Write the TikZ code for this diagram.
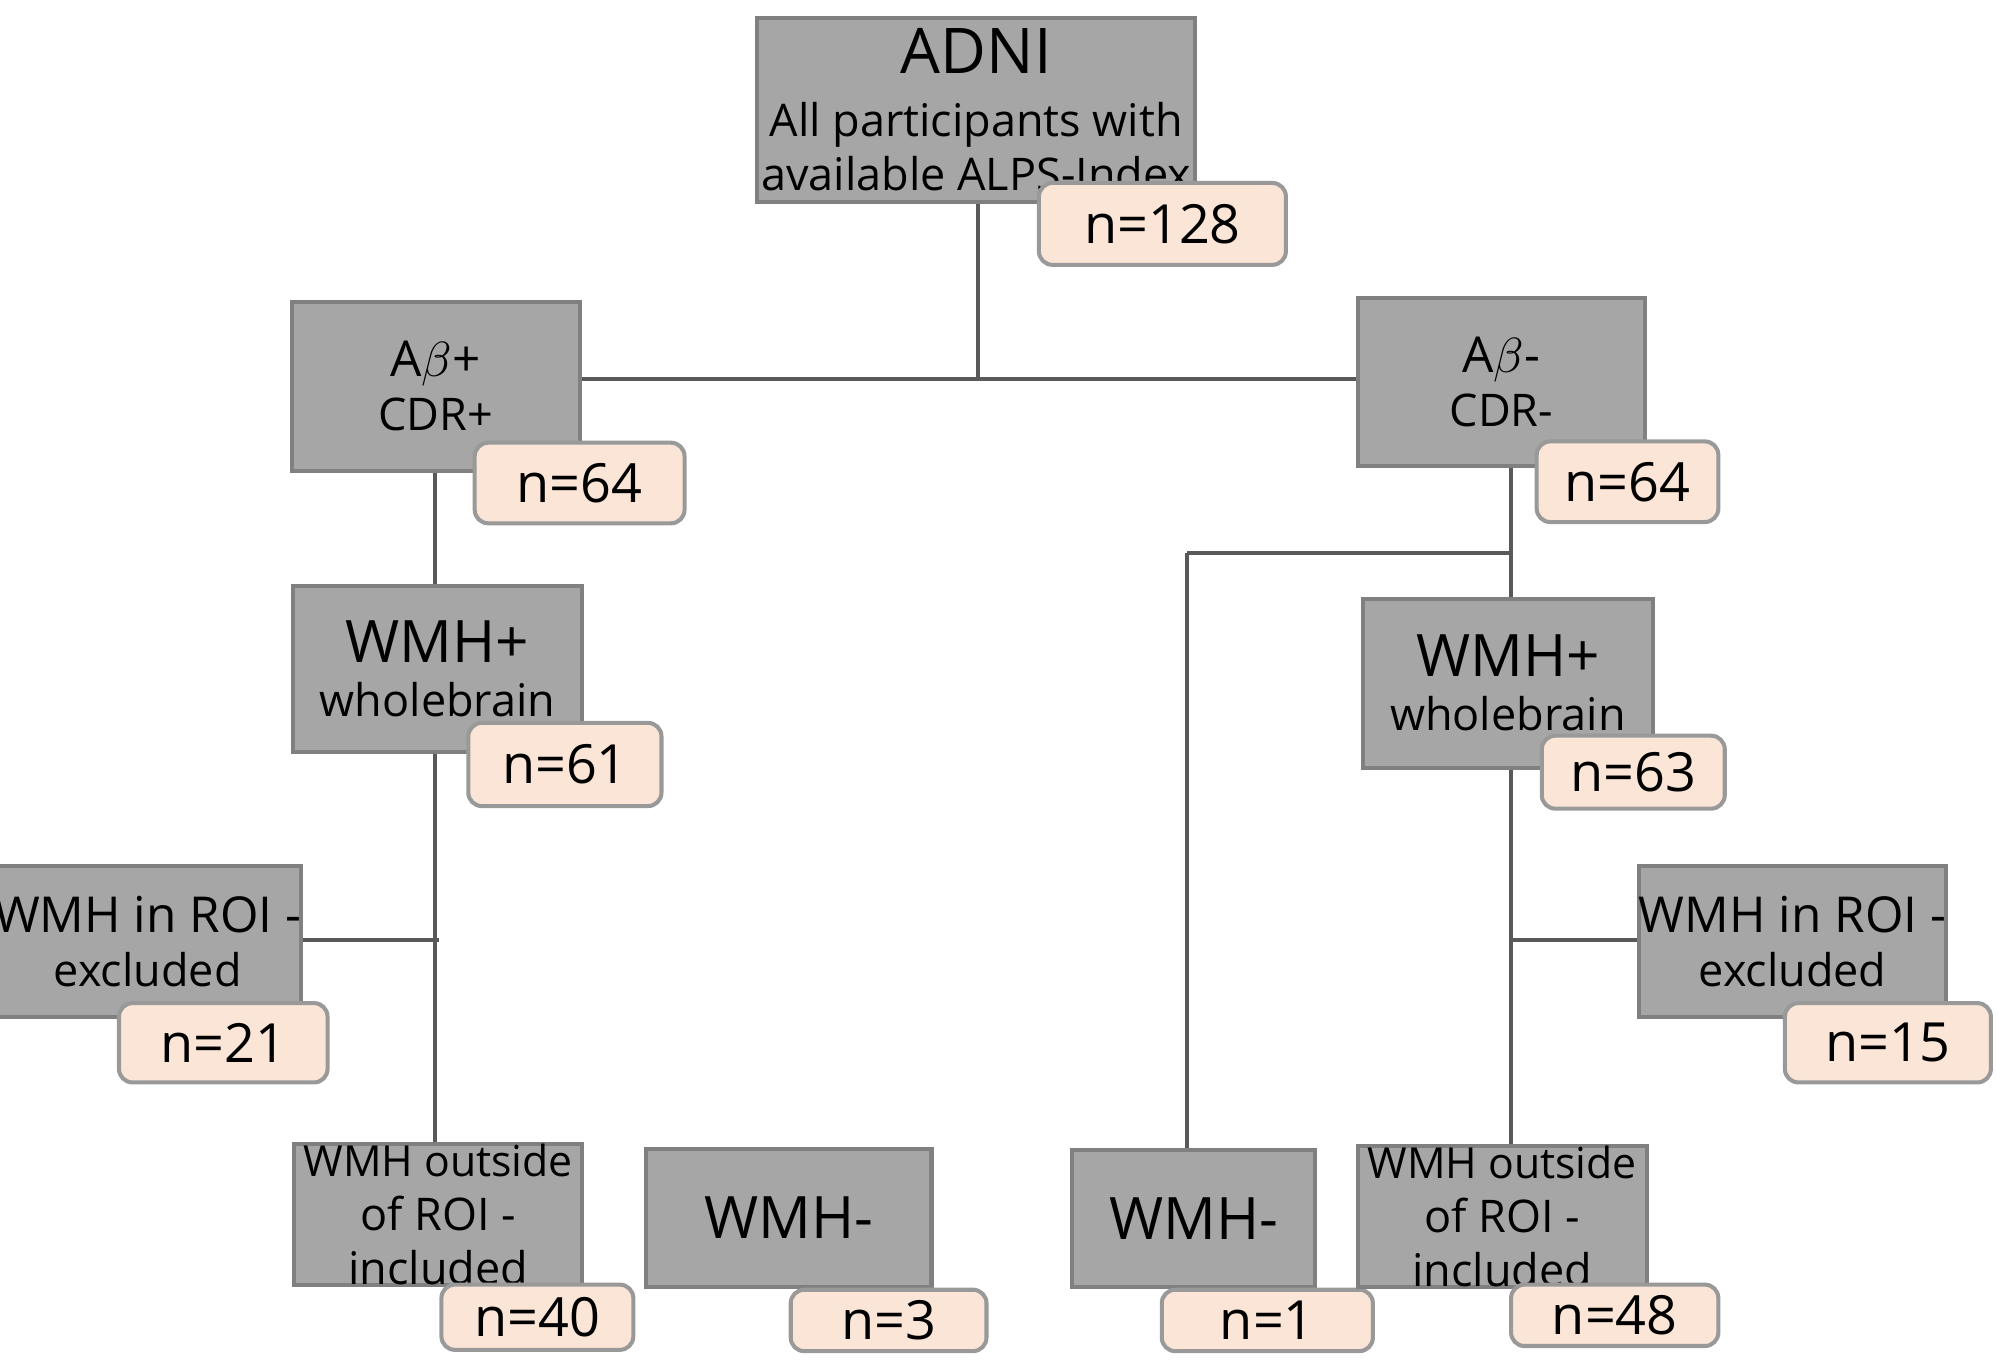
\documentclass[tikz,border=0pt]{standalone}
\usepackage{fontspec}
\setmainfont{Open Sans}
\definecolor{boxgray}{HTML}{A6A6A6}
\definecolor{boxedge}{HTML}{808080}
\definecolor{npeach}{HTML}{FBE5D6}
\tikzset{
  grp/.style={draw=boxedge, line width=0.9pt, fill=boxgray, align=center, inner sep=0pt},
  cnt/.style={draw=boxedge!80, line width=0.9pt, fill=npeach, rounded corners=3pt, inner sep=0pt, font=\fontsize{12}{14}\selectfont},
  link/.style={draw=black!65, line width=0.9pt}
}
% box from corner (x1,y1) to (x2,y2), in picture units
\newcommand{\gbox}[6]{\node[#1, minimum width={(#4-#2)*0.01cm}, minimum height={(#5-#3)*0.01cm}] (#6) at ({(#2+#4)/2},{(#3+#5)/2})}
\begin{document}
\begin{tikzpicture}[x=0.01cm, y=-0.01cm]
\useasboundingbox (0,0) rectangle (1560,1064);
% links
\draw[link] (764,158) -- (764,296);
\draw[link] (453,296) -- (1061,296);
\draw[link] (340,368) -- (340,895);
\draw[link] (225,735) -- (343,735);
\draw[link] (1181,364) -- (1181,897);
\draw[link] (928,432) -- (1181,432);
\draw[link] (928,432) -- (928,899);
\draw[link] (1181,735) -- (1291,735);
% groups
\gbox{grp}{592}{14}{934}{158}{adni} {\fontsize{14}{17}\selectfont ADNI\\[2pt]\fontsize{10}{13}\selectfont All participants with\\ available ALPS-Index};
\gbox{cnt}{812}{143}{1005}{207}{nadni} {n=128};
\gbox{grp}{228}{236}{453}{368}{apos} {\fontsize{11}{14}\selectfont A$\beta$+\\CDR+};
\gbox{cnt}{371}{346}{535}{409}{napos} {n=64};
\gbox{grp}{1061}{233}{1286}{364}{aneg} {\fontsize{11}{14}\selectfont A$\beta$-\\CDR-};
\gbox{cnt}{1201}{345}{1343}{408}{naneg} {n=64};
\gbox{grp}{229}{458}{455}{588}{wmhl} {\fontsize{13}{16}\selectfont WMH+\\wholebrain};
\gbox{cnt}{366}{565}{517}{630}{nwmhl} {n=61};
\gbox{grp}{1065}{468}{1292}{600}{wmhr} {\fontsize{13}{16}\selectfont WMH+\\wholebrain};
\gbox{cnt}{1205}{575}{1348}{632}{nwmhr} {n=63};
\gbox{grp}{6}{677}{225}{795}{roil} {\fontsize{11}{15}\selectfont WMH in ROI -\\excluded};
\gbox{cnt}{93}{784}{256}{846}{nroil} {n=21};
\gbox{grp}{1291}{677}{1511}{795}{roir} {\fontsize{11}{15}\selectfont WMH in ROI -\\excluded};
\gbox{cnt}{1395}{784}{1556}{846}{nroir} {n=15};
\gbox{grp}{230}{895}{455}{1003}{outl} {\fontsize{9.5}{13}\selectfont WMH outside\\of ROI -\\included};
\gbox{cnt}{345}{1004}{495}{1055}{noutl} {n=40};
\gbox{grp}{505}{898}{728}{1006}{negl} {\fontsize{13}{16}\selectfont WMH-};
\gbox{cnt}{618}{1008}{771}{1056}{nnegl} {n=3};
\gbox{grp}{838}{899}{1028}{1006}{negr} {\fontsize{13}{16}\selectfont WMH-};
\gbox{cnt}{908}{1008}{1073}{1056}{nnegr} {n=1};
\gbox{grp}{1061}{897}{1287}{1004}{outr} {\fontsize{9.5}{13}\selectfont WMH outside\\of ROI -\\included};
\gbox{cnt}{1181}{1004}{1343}{1052}{noutr} {n=48};
\end{tikzpicture}
\end{document}
